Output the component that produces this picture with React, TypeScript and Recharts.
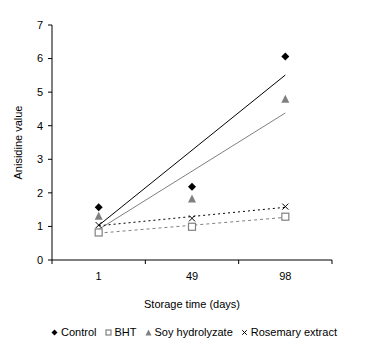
import { ComposedChart, Legend, Line, XAxis, YAxis } from "recharts";

const DAYS = ["1", "49", "98"];
const CONTROL = [1.57, 2.18, 6.06];
const BHT = [0.82, 0.99, 1.29];
const SOY = [1.32, 1.83, 4.8];
const ROSEMARY = [1.04, 1.24, 1.59];

// linear trend lines, read at first and last day
const CONTROL_TREND = [1.03, null, 5.51];
const BHT_TREND = [0.8, null, 1.27];
const SOY_TREND = [0.91, null, 4.38];
const ROSEMARY_TREND = [1.02, null, 1.57];

const Y_TICKS = [0, 1, 2, 3, 4, 5, 6, 7];

const FONT = "'Liberation Sans', Arial, sans-serif";
const GRAY = "#808080";

type Row = { pos: number; day: string; [k: string]: string | number | null };

const data: Row[] = DAYS.map((day, i) => ({
  pos: i + 0.5,
  day,
  control: CONTROL[i],
  bht: BHT[i],
  soy: SOY[i],
  rosemary: ROSEMARY[i],
  controlTrend: CONTROL_TREND[i],
  bhtTrend: BHT_TREND[i],
  soyTrend: SOY_TREND[i],
  rosemaryTrend: ROSEMARY_TREND[i],
}));

type Kind = "diamond" | "square" | "triangle" | "cross";

function Marker({ kind, cx, cy, s }: { kind: Kind; cx: number; cy: number; s: number }) {
  const h = s / 2;
  if (kind === "diamond")
    return <polygon points={`${cx},${cy - h} ${cx + h},${cy} ${cx},${cy + h} ${cx - h},${cy}`} fill="#000" />;
  if (kind === "square")
    return <rect x={cx - h + 0.5} y={cy - h + 0.5} width={s - 1} height={s - 1} fill="#fff" stroke={GRAY} strokeWidth={1.2} />;
  if (kind === "triangle")
    return <polygon points={`${cx},${cy - h} ${cx + h},${cy + h} ${cx - h},${cy + h}`} fill={GRAY} />;
  const c = h * 0.75;
  return (
    <g stroke="#000" strokeWidth={1}>
      <line x1={cx - c} y1={cy - c} x2={cx + c} y2={cy + c} />
      <line x1={cx - c} y1={cy + c} x2={cx + c} y2={cy - c} />
    </g>
  );
}

const dotFor = (kind: Kind) => (props: any) => {
  const { cx, cy, index } = props;
  if (cx == null || cy == null) return <g key={index} />;
  return <Marker key={index} kind={kind} cx={cx} cy={cy} s={8} />;
};

const XTick = (props: any) => {
  const { x, y, payload } = props;
  const v = payload.value as number;
  if (Number.isInteger(v)) {
    return <line x1={x} y1={y} x2={x} y2={y + 4} stroke="#000" strokeWidth={1} />;
  }
  const label = DAYS[Math.floor(v)];
  return (
    <text x={x} y={y + 20} textAnchor="middle" fontSize={11} fontFamily={FONT} fill="#000">
      {label}
    </text>
  );
};

const LEGEND_ITEMS: { kind: Kind; name: string }[] = [
  { kind: "diamond", name: "Control" },
  { kind: "square", name: "BHT" },
  { kind: "triangle", name: "Soy hydrolyzate" },
  { kind: "cross", name: "Rosemary extract" },
];

const LegendContent = () => (
  <div style={{ display: "flex", justifyContent: "center", alignItems: "center", fontFamily: FONT, fontSize: 11, color: "#000" }}>
    {LEGEND_ITEMS.map((it, i) => (
      <span key={it.name} style={{ display: "inline-flex", alignItems: "center", marginRight: i === LEGEND_ITEMS.length - 1 ? 0 : 8 }}>
        <svg width={7} height={7} style={{ marginRight: 3 }}>
          <Marker kind={it.kind} cx={3.5} cy={3.5} s={6} />
        </svg>
        {it.name}
      </span>
    ))}
  </div>
);

export default function App() {
  return (
    <div style={{ position: "absolute", left: 0, top: 0, width: 388, height: 355, background: "#fff" }}>
      <ComposedChart width={388} height={355} data={data} margin={{ top: 25, right: 56, bottom: 0, left: 0 }}>
        <XAxis
          dataKey="pos"
          type="number"
          domain={[0, 3]}
          ticks={[0, 0.5, 1, 1.5, 2, 2.5, 3]}
          interval={0}
          height={95}
          tickSize={0}
          tickMargin={0}
          tickLine={false}
          axisLine={{ stroke: "#000" }}
          tick={<XTick />}
          label={({ viewBox }: any) => (
            <text x={viewBox.x + viewBox.width / 2} y={viewBox.y + 48} textAnchor="middle" fontSize={11} fontFamily={FONT} fill="#000">
              Storage time (days)
            </text>
          )}
        />
        <YAxis
          type="number"
          domain={[0, 7]}
          ticks={Y_TICKS}
          interval={0}
          width={52}
          tickSize={4}
          tickMargin={5}
          axisLine={{ stroke: "#000" }}
          tickLine={{ stroke: "#000" }}
          tick={{ fill: "#000", fontSize: 11, fontFamily: FONT }}
          label={({ viewBox }: any) => (
            <text
              x={18}
              y={viewBox.y + viewBox.height / 2}
              textAnchor="middle"
              fontSize={11}
              fontFamily={FONT}
              fill="#000"
              transform={`rotate(-90, 18, ${viewBox.y + viewBox.height / 2})`}
              dominantBaseline="central"
            >
              Anisidine value
            </text>
          )}
        />
        <Legend
          layout="horizontal"
          verticalAlign="middle"
          align="center"
          content={<LegendContent />}
          wrapperStyle={{ position: "absolute", top: 326, left: 0, width: 388 }}
        />
        <Line dataKey="controlTrend" stroke="#000" strokeWidth={1} dot={false} connectNulls isAnimationActive={false} legendType="none" />
        <Line dataKey="soyTrend" stroke={GRAY} strokeWidth={1} dot={false} connectNulls isAnimationActive={false} legendType="none" />
        <Line dataKey="rosemaryTrend" stroke="#000" strokeWidth={1} strokeDasharray="2 3" dot={false} connectNulls isAnimationActive={false} legendType="none" />
        <Line dataKey="bhtTrend" stroke={GRAY} strokeWidth={1} strokeDasharray="3 3" dot={false} connectNulls isAnimationActive={false} legendType="none" />
        <Line dataKey="control" stroke="none" dot={dotFor("diamond")} activeDot={false} isAnimationActive={false} />
        <Line dataKey="bht" stroke="none" dot={dotFor("square")} activeDot={false} isAnimationActive={false} />
        <Line dataKey="soy" stroke="none" dot={dotFor("triangle")} activeDot={false} isAnimationActive={false} />
        <Line dataKey="rosemary" stroke="none" dot={dotFor("cross")} activeDot={false} isAnimationActive={false} />
      </ComposedChart>
    </div>
  );
}
